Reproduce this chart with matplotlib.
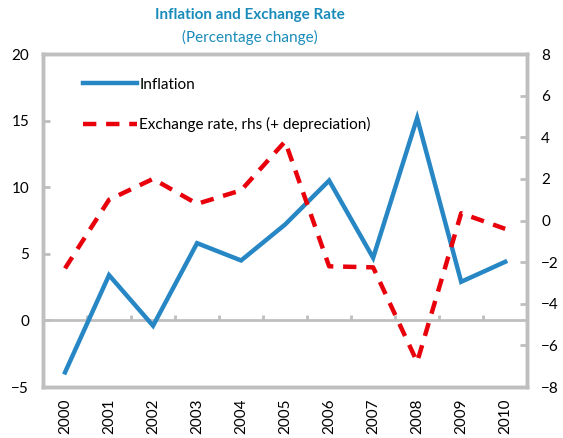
import numpy as np
import matplotlib
matplotlib.use('Agg')
import matplotlib.pyplot as plt

plt.rcParams['font.family'] = ['Lato', 'DejaVu Sans']

# data
years = ['2000', '2001', '2002', '2003', '2004', '2005', '2006', '2007', '2008', '2009', '2010']
inflation = [-3.9, 3.4, -0.4, 5.8, 4.5, 7.2, 10.5, 4.7, 15.2, 2.9, 4.4]
exchange = [-2.3, 1.0, 2.0, 0.8, 1.45, 3.8, -2.2, -2.25, -6.8, 0.35, -0.4]

blue = '#2787C5'
red = '#E8000B'
grey = '#BFBFBF'
title_col = '#1A8CBA'

fig = plt.figure(figsize=(5.63, 4.38), dpi=100)
ax = fig.add_axes([0.0764, 0.1164, 0.86, 0.7603])
ax2 = ax.twinx()

x = np.arange(len(years))
l1, = ax.plot(x, inflation, color=blue, lw=3.2, solid_joinstyle='miter', label='Inflation')
l2, = ax2.plot(x, exchange, color=red, lw=3.2, dashes=(3, 2.2), label='Exchange rate, rhs (+ depreciation)')

ax.set_xlim(-0.5, len(years) - 0.5)
ax.set_ylim(-5, 20)
ax2.set_ylim(-8, 8)
ax.set_yticks([-5, 0, 5, 10, 15, 20])
ax2.set_yticks([-8, -6, -4, -2, 0, 2, 4, 6, 8])

# zero line with category boundary ticks
ax.axhline(0, color=grey, lw=2, zorder=1)
ax.vlines(x[:-1] + 0.5, 0, 0.4, color=grey, lw=2, zorder=1)

ax.set_xticks(x)
ax.set_xticklabels(years, rotation=90)
ax.tick_params(axis='x', length=0, pad=8, labelsize=11)
ax.tick_params(axis='y', direction='in', length=5, width=2, color=grey, labelsize=11, pad=10)
ax2.tick_params(axis='y', direction='in', length=5, width=2, color=grey, labelsize=11, pad=10)

for a in (ax, ax2):
    for s in a.spines.values():
        s.set_color(grey)
        s.set_linewidth(2.5)

ax.legend([l1, l2], [l1.get_label(), l2.get_label()], loc='upper left',
          bbox_to_anchor=(0.055, 0.97), frameon=False, handlelength=3.5,
          handletextpad=0.15, labelspacing=1.65, fontsize=11)

fig.text(0.444, 0.965, 'Inflation and Exchange Rate', ha='center', va='center',
         fontsize=11, fontweight='bold', color=title_col)
fig.text(0.444, 0.915, '(Percentage change)', ha='center', va='center',
         fontsize=11, color=title_col)

fig.savefig('out.png', dpi=100)
